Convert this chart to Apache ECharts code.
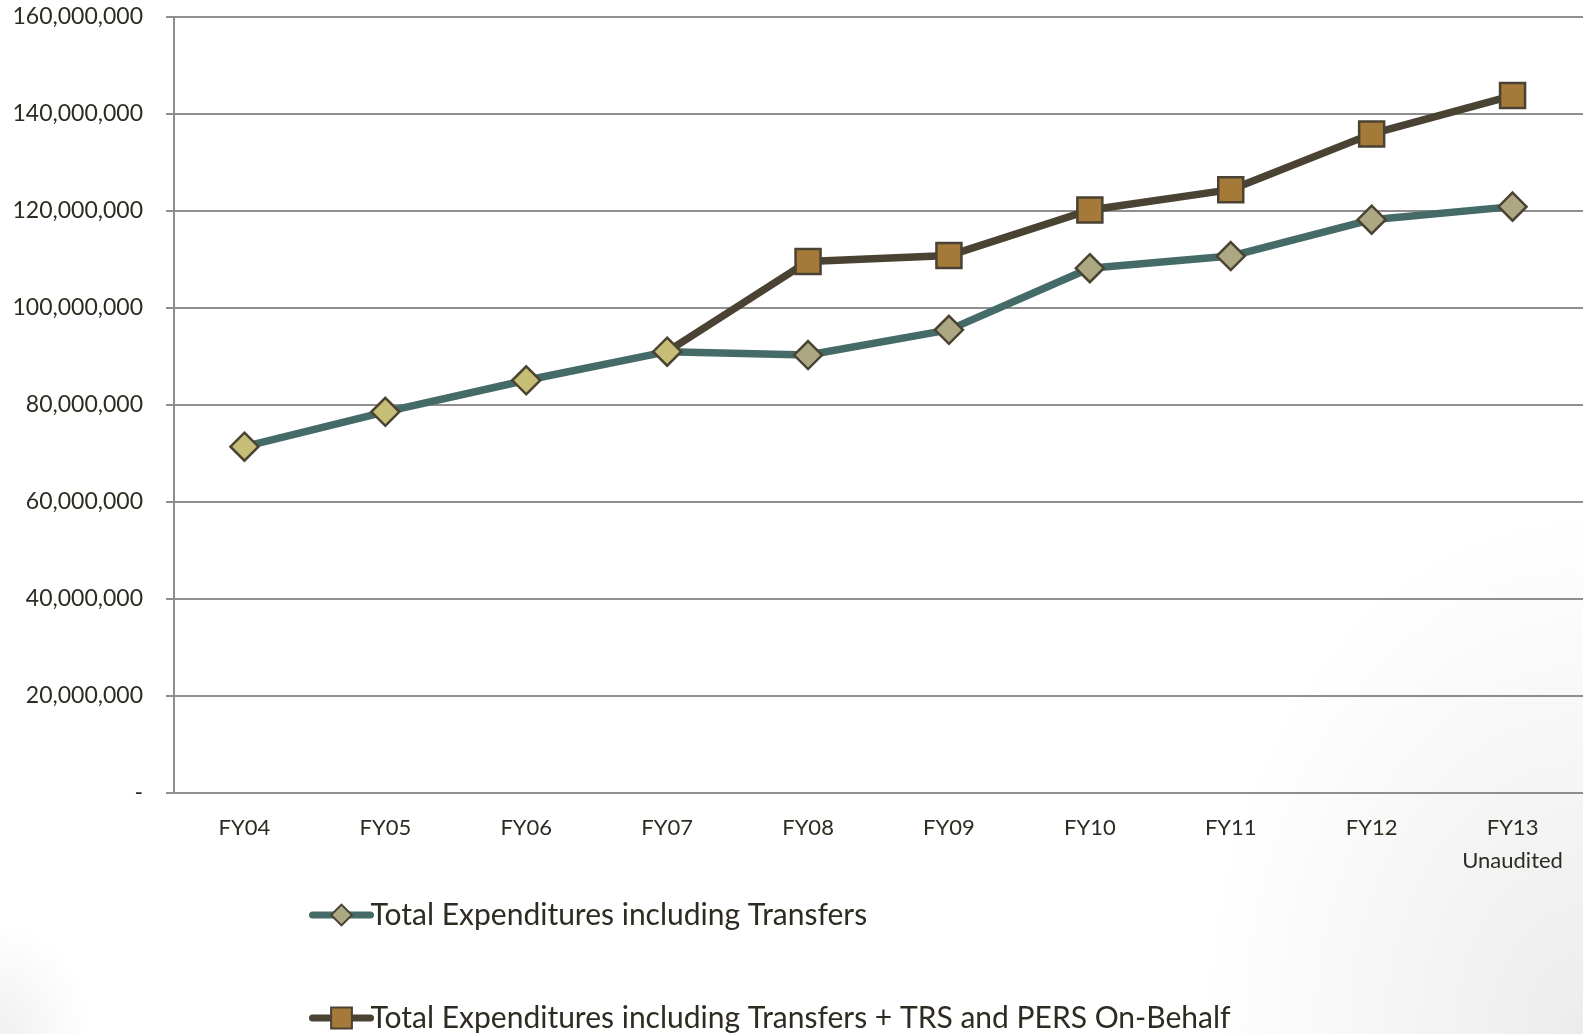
<!DOCTYPE html>
<html>
<head>
<meta charset="utf-8">
<script src="https://cdn.jsdelivr.net/npm/echarts@6/dist/echarts.min.js"></script>
<style>
  html, body { margin: 0; padding: 0; }
  body {
    background:
      radial-gradient(ellipse 380px 520px at 100% 100%, #ececec 0%, rgba(255,255,255,0) 100%),
      radial-gradient(ellipse 90px 110px at 0% 100%, #f0f0f0 0%, rgba(255,255,255,0) 100%),
      #ffffff;
  }
  #chart { width: 1583px; height: 1034px; }
</style>
</head>
<body>
<div id="chart"></div>
<script>
const categories = ['FY04', 'FY05', 'FY06', 'FY07', 'FY08', 'FY09', 'FY10', 'FY11', 'FY12', 'FY13\nUnaudited'];

const totalExp = [71400000, 78600000, 85100000, 91000000, 90300000, 95500000, 108200000, 110700000, 118200000, 120900000];
// the second line only starts splitting off at FY07
const totalExpOnBehalf = [null, null, null, 91000000, 109600000, 110800000, 120200000, 124400000, 135900000, 143800000];

const seriesNames = ['Total Expenditures including Transfers', 'Total Expenditures including Transfers + TRS and PERS On-Behalf'];

const textColor = '#2e2b22';
const gridColor = '#8e8e8e';

const chart = echarts.init(document.getElementById('chart'));

function legendFor(name, top) {
  return {
    orient: 'vertical',
    left: 304,
    top: top,
    itemWidth: 58,
    itemHeight: 26,
    lineStyle: { width: 7, cap: 'round' },
    textStyle: { color: textColor, fontFamily: 'Lato', fontSize: 30, lineHeight: 32, padding: [0, 0, 0, -5] },
    data: [name]
  };
}

const option = {
  animation: false,
  grid: { left: 174, right: 0, top: 17, bottom: 241 },
  xAxis: {
    type: 'category',
    data: categories,
    boundaryGap: true,
    axisLine: { lineStyle: { color: gridColor, width: 2 } },
    axisTick: { length: 8, lineStyle: { color: gridColor, width: 2 } },
    axisLabel: { color: textColor, fontFamily: 'Lato', fontSize: 22, margin: 18, lineHeight: 33 }
  },
  yAxis: {
    type: 'value',
    min: 0,
    max: 160000000,
    interval: 20000000,
    axisLine: { show: true, lineStyle: { color: gridColor, width: 2 } },
    axisTick: { show: true, length: 8, lineStyle: { color: gridColor, width: 2 } },
    splitLine: { lineStyle: { color: gridColor, width: 2 } },
    axisLabel: {
      color: textColor, fontFamily: 'Lato', fontSize: 23, margin: 31,
      formatter: v => v === 0 ? '-' : v.toLocaleString('en-US')
    }
  },
  legend: [legendFor(seriesNames[0], 894), legendFor(seriesNames[1], 997)],
  series: [
    {
      name: seriesNames[0],
      type: 'line',
      z: 3,
      data: totalExp.map((v, i) => ({
        value: v,
        itemStyle: { color: i < 4 ? '#c6bd76' : '#aca883' }
      })),
      symbol: 'diamond',
      symbolSize: [28, 28],
      lineStyle: { color: '#456b68', width: 7.5 },
      itemStyle: { color: '#aca883', borderColor: '#4a4232', borderWidth: 2.5 }
    },
    {
      name: seriesNames[1],
      type: 'line',
      z: 2,
      connectNulls: false,
      data: totalExpOnBehalf.map((v, i) => (i === 3 ? { value: v, symbol: 'none' } : v)),
      symbol: 'rect',
      symbolSize: 25,
      lineStyle: { color: '#4a4232', width: 7.5 },
      itemStyle: { color: '#a57a38', borderColor: '#4a4232', borderWidth: 2.5 }
    }
  ]
};

chart.setOption(option);
</script>
</body>
</html>
